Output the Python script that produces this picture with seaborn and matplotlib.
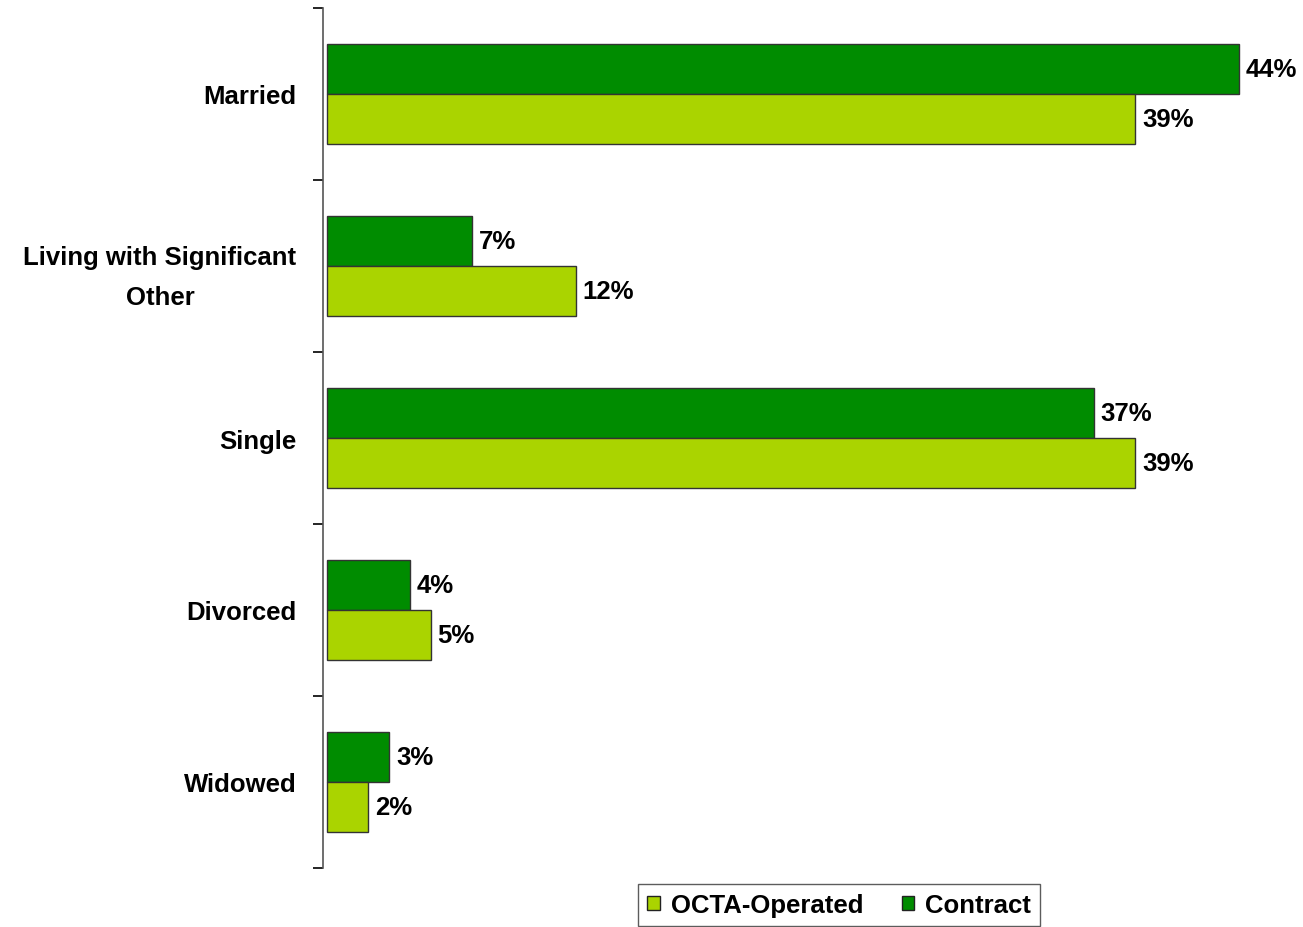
import matplotlib
matplotlib.use("Agg")
import matplotlib.pyplot as plt
import seaborn as sns
import pandas as pd
from matplotlib.patches import Patch

categories = ["Married", "Living with Significant\nOther", "Single", "Divorced", "Widowed"]
contract = [44, 7, 37, 4, 3]
octa_operated = [39, 12, 39, 5, 2]
series_names = ["Contract", "OCTA-Operated"]
legend_order = ["OCTA-Operated", "Contract"]

colors = {"Contract": "#008C00", "OCTA-Operated": "#AAD400"}

df = pd.DataFrame({
    "category": categories * 2,
    "series": ["Contract"] * len(categories) + ["OCTA-Operated"] * len(categories),
    "value": contract + octa_operated,
})

sns.set_style("white")
plt.rcParams["font.family"] = ["Liberation Sans", "DejaVu Sans"]
plt.rcParams["font.weight"] = "bold"
plt.rcParams["text.color"] = "black"
plt.rcParams["ytick.color"] = "black"
plt.rcParams["ytick.labelcolor"] = "black"

FS = 18.5

fig = plt.figure(figsize=(13.03, 9.28), dpi=100)
W, H = 1303, 928
left_px, right_px, top_px, bottom_px = 323, 1295, 9, 869
ax = fig.add_axes([left_px / W, 1 - bottom_px / H, (right_px - left_px) / W, (bottom_px - top_px) / H])

sns.barplot(data=df, y="category", x="value", hue="series", hue_order=series_names,
            order=categories, palette=colors, saturation=1, orient="h", width=0.58,
            edgecolor="#333333", linewidth=1.0, ax=ax, legend=False)

px_per_unit = 20.72
x0 = -4 / px_per_unit
ax.set_xlim(x0, x0 + (right_px - left_px) / px_per_unit)
ax.set_ylim(len(categories) - 0.5, -0.5)

for container in ax.containers:
    ax.bar_label(container, labels=[f"{v:.0f}%" for v in container.datavalues],
                 padding=5, fontsize=FS, fontweight="bold", color="black")

# boundary ticks between groups, labels at group centres
ax.set_yticks([i - 0.5 for i in range(len(categories) + 1)])
ax.set_yticklabels([])
ax.set_yticks(range(len(categories)), minor=True)
ax.set_yticklabels(categories, minor=True, fontsize=FS, fontweight="bold",
                   multialignment="center", linespacing=1.85, color="black")
ax.tick_params(axis="y", which="major", direction="out", length=7, width=1.2,
               color="black", left=True)
ax.tick_params(axis="y", which="minor", length=0, pad=19)
ax.set_xticks([])
ax.set_xlabel("")
ax.set_ylabel("")

for s in ["top", "right", "bottom"]:
    ax.spines[s].set_visible(False)
ax.spines["left"].set_color("#555555")
ax.spines["left"].set_linewidth(1.2)

handles = [Patch(facecolor=colors[n], edgecolor="#222222", linewidth=1.0) for n in legend_order]
leg = fig.legend(handles, legend_order, loc="center", bbox_to_anchor=(839 / W, 1 - 906 / H),
                 ncol=2, frameon=True, fancybox=False, edgecolor="#333333",
                 prop={"size": FS, "weight": "bold"}, handlelength=0.5, handleheight=0.5,
                 handletextpad=0.4, columnspacing=1.5, borderpad=0.35, borderaxespad=0)
leg.get_frame().set_linewidth(1.0)

fig.savefig("out.png", dpi=100)
